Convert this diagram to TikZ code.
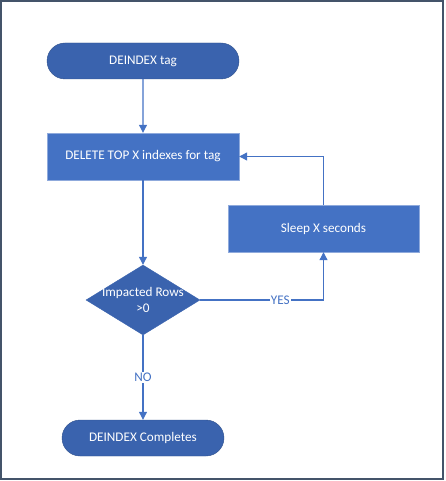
\documentclass[tikz,border=0pt]{standalone}
\usepackage{fontspec}
\setmainfont{Carlito}
\usetikzlibrary{arrows.meta, shapes.geometric, shapes.misc}

\definecolor{termblue}{RGB}{58,99,174}
\definecolor{boxblue}{RGB}{68,114,196}
\definecolor{boxedge}{RGB}{143,170,220}
\definecolor{lineblue}{RGB}{68,114,196}
\definecolor{framegray}{RGB}{68,84,106}

\tikzset{
  terminal/.style={rounded rectangle, fill=termblue, draw=termblue!80!black, text=white, inner sep=0pt},
  process/.style={rectangle, fill=boxblue, draw=boxedge, text=white, inner sep=0pt,
    minimum width=192, minimum height=47},
  decision/.style={diamond, fill=termblue, draw=termblue, inner sep=0pt,
    minimum width=114, minimum height=70},
  flow/.style={draw=lineblue, line width=1.1pt, -{Triangle[width=8pt,length=8pt]}},
  flowlabel/.style={fill=white, text=lineblue, inner sep=1pt}
}

\begin{document}
\begin{tikzpicture}[x=1pt, y=-1pt, font=\fontsize{13.2}{16}\selectfont]
\useasboundingbox (0,0) rectangle (445,481);
\draw[framegray, line width=1.5pt] (1,1) rectangle (443,479);
% nodes
\node[terminal, minimum width=192, minimum height=36] (start) at (143,61) {DEINDEX tag};
\node[process] (del) at (143,156.5) {DELETE TOP X indexes for tag};
\node[process, minimum width=191] (sleep) at (323.5,228.5) {Sleep X seconds};
\node[decision, label={[align=center, text=white]center:Impacted Rows\\>0}] (dec) at (143,300) {};
\node[terminal, minimum width=162, minimum height=36] (done) at (143,438) {DEINDEX Completes};
% connectors
\draw[flow] (start) -- (del);
\draw[flow] (del) -- (dec);
\draw[flow] (dec.east) -- node[flowlabel, pos=0.65]{YES} (dec.east -| sleep) -- (sleep);
\draw[flow] (sleep) |- (del.east);
\draw[flow] (dec) -- node[flowlabel]{NO} (done);
\end{tikzpicture}
\end{document}
